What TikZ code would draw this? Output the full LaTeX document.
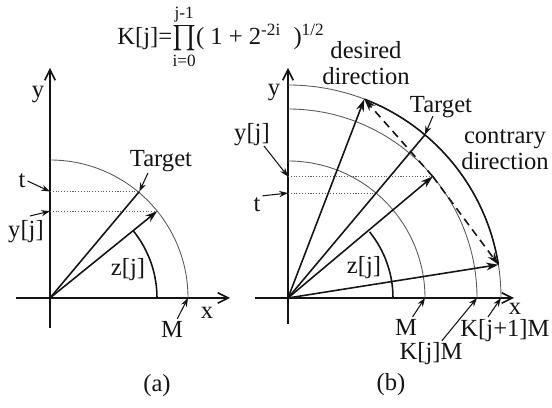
\documentclass[tikz,border=0pt]{standalone}
\usepackage{amsmath}
\usepackage{fontspec}
\setmainfont{Liberation Serif}
\usetikzlibrary{arrows.meta,positioning,calc}
\definecolor{ink}{HTML}{141414}
\definecolor{gr}{HTML}{5A5A5A}
\tikzset{
  axis/.style={-{Straight Barb[length=6pt,width=6pt]},line width=0.9pt,ink},
  vec/.style={-{Stealth[length=7pt,width=4.5pt]},line width=0.9pt,ink},
  ray/.style={line width=0.9pt,ink},
  circ/.style={line width=0.5pt,gr},
  zarc/.style={line width=0.9pt,ink},
  proj/.style={line width=0.6pt,gr,densely dotted},
  swing/.style={-{Stealth[length=7pt,width=4.5pt]},line width=0.9pt,ink,dash pattern=on 4.5pt off 3pt},
  ptr/.style={-{Stealth[length=5pt,width=3.5pt]},line width=0.6pt,ink},
  lab/.style={font=\fontsize{14}{15}\selectfont,inner sep=1pt,text=ink},
  dirlab/.style={lab,align=center}
}

\begin{document}
\begin{tikzpicture}[x=0.02cm,y=0.02cm]
\useasboundingbox (0,0) rectangle (552,408);
% ---------------- formula ----------------
\node[lab] (kform) at (221,371) {K[j]=$\prod\limits_{\text{i=0}}^{\text{j-1}}$( 1 + 2\textsuperscript{-2i}\hspace{7pt})\textsuperscript{1/2}};
% ---------------- panel (a) ----------------
\begin{scope}[shift={(50,110)}]
\coordinate (a0) at (0,0);
\coordinate (ayb) at (0,-30); \coordinate (ayt) at (0,230);
\coordinate (axl) at (-34,0); \coordinate (axr) at (180,0);
\draw[axis] (ayb) -- (ayt);
\draw[axis] (axl) -- (axr);
\draw[circ] (138,0) arc[start angle=0,end angle=90,radius=138];
\draw[zarc] (107,0) arc[start angle=0,end angle=39,radius=107];
\coordinate (ayj) at (39:138);
\coordinate (atg) at (50:139);
\coordinate (amx) at (138,0);
\draw[proj] (a0 |- ayj) -- (ayj);
\draw[proj] (a0 |- atg) -- (atg);
\draw[vec] (a0) -- (ayj);
\draw[ray] (a0) -- (atg);
\node[lab] (ay) at (-12,203) {y};
\node[lab] (ax) at (157,-15) {x};
\node[lab] (am) at (122,-31) {M};
\node[lab] (azj) at (78,28) {z[j]};
\node[lab] (ayjl) at (-24,66) {y[j]};
\node[lab] (atl) at (-28,117) {t};
\node[lab] (atgl) at (111,137) {Target};
\coordinate (ayjs) at (-20,82);
\coordinate (atgs) at (98,125);
\draw[ptr] (am) -- (amx);
\draw[ptr] (ayjs) -- (a0 |- ayj);
\draw[ptr] (atl.east) -- (a0 |- atg);
\draw[ptr] (atgs) -- (atg);
\end{scope}
\node[lab] (capa) at (157,22) {(a)};
% ---------------- panel (b) ----------------
\begin{scope}[shift={(288,110)}]
\coordinate (b0) at (0,0);
\coordinate (byb) at (0,-26); \coordinate (byt) at (0,230);
\coordinate (bxl) at (-33,0); \coordinate (bxr) at (226,0);
\draw[axis] (byb) -- (byt);
\draw[axis] (bxl) -- (bxr);
\draw[circ] (137,0) arc[start angle=0,end angle=90,radius=137];
\draw[circ] (189,0) arc[start angle=0,end angle=90,radius=189];
\draw[circ] (213,0) arc[start angle=0,end angle=90,radius=213];
\draw[ray] (9:213) arc[start angle=9,end angle=69,radius=213];
\draw[zarc] (105,0) arc[start angle=0,end angle=39,radius=105];
\coordinate (byj) at (40:189);
\coordinate (btg) at (50:213);
\coordinate (btm) at (50:137);
\coordinate (bdes) at (69:213);
\coordinate (bcon) at (9:213);
\coordinate (bmx) at (137,0);
\coordinate (bkx) at (189,0);
\coordinate (bk1x) at (213,0);
\draw[proj] (b0 |- byj) -- (byj);
\draw[proj] (b0 |- btm) -- (btm);
\draw[vec] (b0) -- (byj);
\draw[ray] (b0) -- (btg);
\draw[vec] (b0) -- (bdes);
\draw[vec] (b0) -- (bcon);
\draw[swing] (byj) -- (bdes);
\draw[swing] (byj) -- (bcon);
\node[lab] (by) at (-14,205) {y};
\node[lab,inner sep=0pt] (bx) at (227,-11) {x};
\node[lab] (bm) at (118,-29) {M};
\node[lab] (bkm) at (143,-56) {K[j]M};
\node[lab,inner sep=0pt] (bk1m) at (217,-33) {K[j+1]M};
\node[lab] (bzj) at (76,30) {z[j]};
\node[lab] (byjl) at (-36,163) {y[j]};
\node[lab] (btl) at (-31,93) {t};
\node[lab] (btgl) at (153,191) {Target};
\node[dirlab] (bdesl) at (78,235) {desired\\direction};
\node[dirlab] (bconl) at (217,148) {contrary\\direction};
\coordinate (byjs) at (-24,152);
\coordinate (btgs) at (145,182);
\coordinate (bk1s) at (200,-19);
\draw[ptr] (bm) -- (bmx);
\draw[ptr] (bkm) -- (bkx);
\draw[ptr] (bk1s) -- (bk1x);
\draw[ptr] (byjs) -- (b0 |- byj);
\draw[ptr] (btl.north east) -- (b0 |- btm);
\draw[ptr] (btgs) -- (btg);
\end{scope}
\node[lab] (capb) at (391,23) {(b)};
\end{tikzpicture}
\end{document}
